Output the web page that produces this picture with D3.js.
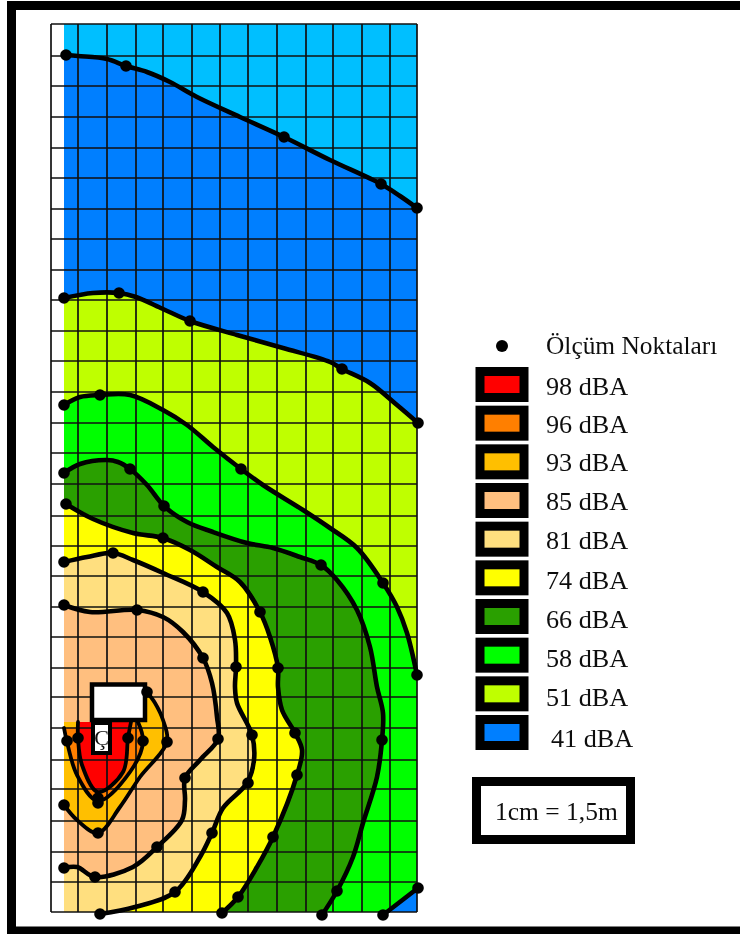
<!DOCTYPE html>
<html><head><meta charset="utf-8">
<script src="https://cdnjs.cloudflare.com/ajax/libs/d3/7.8.5/d3.min.js"></script>
<style>html,body{margin:0;padding:0;background:#fff}svg{display:block}text{font-family:"Liberation Serif",serif;fill:#111}</style>
</head><body><div id="chart"></div>
<script>
// Map units: origin at the top-left of the survey grid
const gridX = [0,27,56,85,112,141,169,197,226,255,282,311,339,366];
const gridY = [0,32,62,93,124,154,185,215,246,276,307,337,368,399,429,460,492,522,552,583,613,644,673,704,736,765,797,828,858,888];

const contour41 = [[15,31],[27,32],[56,35],[75,42],[96,48],[119,58],[146,73],[189,93],[233,113],[279,136],[330,160],[349,172],[366,184]];
const contour51 = [[13,274],[42,269],[68,269],[85,273],[112,285],[139,297],[186,311],[232,324],[279,338],[291,345],[319,359],[346,381],[367,399]];
const contour58 = [[13,381],[29,373],[49,371],[79,371],[112,386],[136,401],[162,423],[190,445],[212,461],[252,486],[279,504],[306,524],[332,559],[346,583],[356,609],[366,651]];
const contour66 = [[13,449],[29,440],[56,436],[67,438],[79,445],[96,461],[113,482],[136,498],[162,508],[196,519],[222,524],[249,533],[270,541],[286,556],[306,586],[319,623],[326,663],[332,689],[331,716],[326,753],[312,799],[302,833],[286,867],[271,891]];
const contour74 = [[15,480],[42,495],[82,509],[112,514],[139,526],[166,543],[189,558],[209,588],[219,613],[227,644],[227,663],[231,686],[244,709],[251,726],[246,751],[222,813],[206,843],[187,873],[171,889]];
const contour81 = [[13,538],[36,533],[62,529],[82,536],[112,549],[152,568],[176,589],[184,616],[185,643],[184,663],[186,679],[201,711],[203,736],[196,759],[172,784],[161,809],[149,833],[124,868],[84,883],[49,890]];
const contour85 = [[13,581],[39,588],[86,586],[112,593],[132,608],[152,634],[161,659],[166,693],[167,715],[149,736],[134,754],[134,776],[131,796],[106,823],[82,843],[44,853],[26,843],[13,844]];
const contour93 = [[13,781],[26,796],[47,809],[69,783],[89,753],[116,718],[112,696],[104,679],[96,668]];
const contour96 = [[13,704],[16,718],[26,751],[47,777],[79,748],[92,718],[87,698]];
const contour98 = [[27,698],[27,714],[31,741],[47,768],[72,748],[77,714],[80,698]];
const contourCorner = [[332,891],[367,864]];

const measuredPoints = [
 [15,31],[75,42],[233,113],[330,160],[366,184],
 [13,274],[68,269],[139,297],[291,345],[367,399],
 [13,381],[49,371],[190,445],[332,559],[366,651],
 [13,449],[79,445],[113,482],[270,541],[331,716],[286,867],[271,891],
 [15,480],[112,514],[209,588],[227,644],[244,709],[246,751],[222,813],[187,873],[171,889],
 [13,538],[62,529],[152,568],[185,643],[201,711],[197,759],[161,809],[124,868],[49,890],
 [13,581],[86,586],[152,634],[167,715],[134,754],[106,823],[44,853],[13,844],
 [13,781],[47,809],[116,718],[96,668],
 [16,717],[27,714],[77,714],[92,717],[47,774],[47,779],[332,891],[367,864]
];

const legendLabels = ["98 dBA","96 dBA","93 dBA","85 dBA","81 dBA","74 dBA","66 dBA","58 dBA","51 dBA","41 dBA"];
const legendColors = ["#FF0000","#FF7F00","#FFBF00","#FFBF7F","#FFDF7F","#FFFF00","#2CA000","#00FF00","#BFFF00","#007FFF"];
const topColor = "#00BFFF";
const pointsLabel = "Ölçüm Noktaları";
const scaleLabel = "1cm = 1,5m";

const W = 740, H = 934;
const svg = d3.select("#chart").append("svg").attr("width",W).attr("height",H);
const defs = svg.append("defs");
defs.append("filter").attr("id","soft").attr("x",0).attr("y",0).attr("width",1).attr("height",1)
  .attr("filterUnits","objectBoundingBox")
  .append("feGaussianBlur").attr("stdDeviation",0.55);
const root = svg.append("g").attr("filter","url(#soft)");
root.append("rect").attr("width",W).attr("height",H).attr("fill","#fff");

const x = d3.scaleLinear().domain([0,366]).range([51,417]);
const y = d3.scaleLinear().domain([0,888]).range([24,912]);
const fillLeft = 13, xEnd = 366, yEnd = 888;

defs.append("clipPath").attr("id","mapClip").append("rect")
  .attr("x",x(fillLeft)).attr("y",y(0)).attr("width",x(xEnd)-x(fillLeft)).attr("height",y(yEnd)-y(0));

const line = d3.line().x(d=>x(d[0])).y(d=>y(d[1])).curve(d3.curveCatmullRom.alpha(0.5));
const color = Object.fromEntries(legendLabels.map((l,i)=>[l,legendColors[i]]));
const BR=[xEnd,yEnd], BL=[fillLeft,yEnd];
const layers = [
 {pts:contour41, fill:color["41 dBA"], close:[BR,BL,[fillLeft,31]]},
 {pts:contour51, fill:color["51 dBA"], close:[BR,BL]},
 {pts:contour58, fill:color["58 dBA"], close:[BR,BL]},
 {pts:contour66, fill:color["66 dBA"], close:[BL]},
 {pts:contour74, fill:color["74 dBA"], close:[BL,[fillLeft,480]]},
 {pts:contour81, fill:color["81 dBA"], close:[BL]},
 {pts:contour85, fill:color["85 dBA"], close:[]},
 {pts:contour93, fill:color["93 dBA"], close:[[41,698],[fillLeft,698]]},
 {pts:contour96, fill:color["96 dBA"], close:[]},
 {pts:contour98, fill:color["98 dBA"], close:[]},
 {pts:contourCorner, fill:color["41 dBA"], close:[BR]}
];
const fills = root.append("g").attr("clip-path","url(#mapClip)");
fills.append("rect").attr("x",x(fillLeft)).attr("y",y(0)).attr("width",x(xEnd)-x(fillLeft)).attr("height",y(yEnd)-y(0)).attr("fill",topColor);
fills.selectAll("path").data(layers).join("path")
  .attr("fill",d=>d.fill)
  .attr("d",d=>line(d.pts)+d.close.map(c=>"L"+x(c[0])+","+y(c[1])).join("")+"Z");

// Grid
const grid = root.append("g").attr("stroke","#111").attr("stroke-width",1.7).attr("fill","none");
grid.selectAll("line.v").data(gridX).join("line").attr("class","v")
  .attr("x1",d=>x(d)).attr("x2",d=>x(d)).attr("y1",y(0)).attr("y2",y(yEnd));
grid.selectAll("line.h").data(gridY).join("line").attr("class","h")
  .attr("x1",x(0)).attr("x2",x(xEnd)).attr("y1",d=>y(d)).attr("y2",d=>y(d));

// Contour lines
root.append("g").selectAll("path").data(layers).join("path")
  .attr("fill","none").attr("stroke","#000").attr("stroke-linejoin","round").attr("stroke-linecap","round")
  .attr("stroke-width",(d,i)=>i>=7&&i<10?3.8:4.6)
  .attr("d",d=>line(d.pts));

// Building footprint
root.append("rect").attr("x",x(41)).attr("y",y(660.5)).attr("width",x(94)-x(41)).attr("height",y(696)-y(660.5))
  .attr("fill","#fff").attr("stroke","#000").attr("stroke-width",4.5);
root.append("rect").attr("x",x(42)).attr("y",y(699)).attr("width",x(59)-x(42)).attr("height",y(729)-y(699))
  .attr("fill","#fff").attr("stroke","#000").attr("stroke-width",4);
root.append("text").attr("x",x(50.5)).attr("y",y(721)).attr("text-anchor","middle").attr("font-size",22).text("Ç");

// Measurement points
root.append("g").selectAll("circle").data(measuredPoints).join("circle")
  .attr("cx",d=>x(d[0])).attr("cy",d=>y(d[1])).attr("r",5.8).attr("fill","#000");

// Legend
const legendY = d3.scaleLinear().domain([0,9]).range([367,715]);
const textY = d3.scaleOrdinal().domain(legendLabels).range([395,433,471,510,549,589,628,667,706,747]);
root.append("circle").attr("cx",502).attr("cy",346).attr("r",6).attr("fill","#000");
root.append("text").attr("x",546).attr("y",354).attr("font-size",25.4).text(pointsLabel);
const items = root.append("g").selectAll("g").data(legendLabels).join("g");
items.append("rect").attr("x",480).attr("y",(d,i)=>legendY(i)+4.5).attr("width",44).attr("height",26)
  .attr("fill",(d,i)=>legendColors[i]).attr("stroke","#000").attr("stroke-width",9);
items.append("text").attr("x",(d,i)=>i===9?551:546).attr("y",d=>textY(d)).attr("font-size",26.2).text(d=>d);

// Scale box
root.append("rect").attr("x",476.5).attr("y",781.5).attr("width",154).attr("height",58)
  .attr("fill","#fff").attr("stroke","#000").attr("stroke-width",9);
root.append("text").attr("x",495).attr("y",820).attr("font-size",25.5).text(scaleLabel);

// Outer frame: open on the right edge
root.append("path").attr("d",`M${W+10},5.5H11.5V${H-3}H${W+10}`).attr("fill","none").attr("stroke","#000").attr("stroke-width",9);
</script></body></html>
